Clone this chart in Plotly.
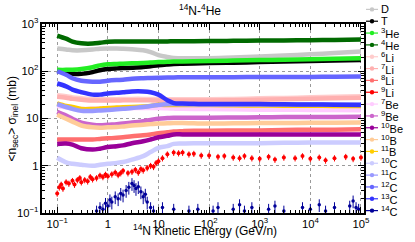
import plotly.graph_objects as go

# ---------------- data ----------------
E_GRID = [0.1, 0.15, 0.2, 0.3, 0.5, 0.7, 1, 1.5, 2, 3, 5, 7, 10, 15, 20, 30,
          50, 100, 300, 1000, 3000, 1e4, 3e4, 1e5]

D_VALS = [304, 290, 278, 277, 288, 300, 304, 304, 300, 292, 278, 255, 220, 200,
          190, 189, 189, 189, 195, 205, 215, 228, 242, 262]
T_VALS = [102, 94, 89, 88, 96, 105, 111, 115, 117, 119, 123, 128, 134, 139,
          142, 144, 146, 149, 152, 156, 160, 164, 168, 172]
HE3_VALS = [107, 107, 108, 112, 122, 133, 140, 143, 145, 147, 150, 153, 156, 158,
            160, 161, 162, 164, 168, 172, 176, 180, 184, 189]
HE4_VALS = [565, 490, 425, 390, 386, 400, 420, 425, 425, 425, 425, 425, 425, 428,
            430, 430, 432, 435, 440, 445, 450, 455, 460, 467]
LI6_VALS = [31, 29.5, 28, 26.8, 25.6, 25.6, 25.6, 25.6, 25.8, 26, 26, 25.8, 25.6,
            25.6, 25.6, 25.6, 25.6, 25.7, 26, 26.7, 27.3, 28, 28.7, 29.5]
LI7_VALS = [29, 27.5, 26, 25, 24, 24, 24, 24, 24.2, 24.4, 24.4, 24.2, 24,
            24, 24, 24, 24, 24.1, 24.4, 25, 25.6, 26.2, 26.9, 27.6]
LI8_VALS = [3.6, 3.6, 3.6, 3.6, 3.6, 3.7, 3.8, 3.9, 4.0, 4.2, 4.4, 4.6, 4.9, 5.1,
            5.3, 5.4, 5.5, 5.5, 5.6, 5.6, 5.7, 5.8, 5.8, 5.9]
BE7_VALS = [18.4, 17.2, 16.3, 15.9, 16.2, 16.5, 16.7, 16.7, 16.7, 16.7, 16.7, 16.7,
            16.7, 16.4, 16.2, 16, 15.9, 15.8, 15.6, 15.4, 15.3, 15.2, 15.1, 15]
BE9_VALS = [13.8, 11.5, 9.9, 8.2, 7.4, 7.2, 7.4, 7.6, 7.8, 8.2, 8.8, 9.3, 9.9,
            10.2, 10.4, 10.4, 10.4, 10.4, 10.5, 10.6, 10.7, 10.8, 10.8, 10.9]
BE10_VALS = [2.9, 2.95, 2.8, 2.35, 2.2, 2.3, 2.5, 2.6, 2.7, 3.0, 3.3, 3.6, 4.0,
             4.3, 4.6, 4.6, 4.6, 4.6, 4.6, 4.6, 4.6, 4.6, 4.6, 4.6]
B10_VALS = [12, 9.9, 8.6, 7.1, 6.5, 6.4, 6.5, 6.6, 6.8, 7.1, 7.4, 7.6, 7.8, 7.9,
            8.0, 8.0, 7.9, 7.8, 7.9, 8.0, 8.0, 8.1, 8.1, 8.2]
B11_VALS = [21, 18.5, 17.5, 15.9, 15.9, 16.2, 16.7, 17, 17.2, 17.5, 18, 18.5, 19.5,
            19.3, 19.3, 19.3, 19.3, 19.3, 19, 18.8, 18.7, 18.6, 18.5, 18.4]
C10_VALS = [1.48, 1.18, 1.1, 1.05, 1.0, 1.05, 1.1, 1.15, 1.2, 1.35, 1.6, 1.95, 2.4,
            2.6, 2.9, 2.95, 3.0, 3.0, 3.0, 3.0, 3.05, 3.1, 3.1, 3.1]
C11_VALS = [20.2, 17.5, 16, 14.5, 14.5, 14.8, 15.2, 15.6, 16, 16.7, 17.5, 18.4,
            19.3, 20, 20.2, 20, 19.8, 19.8, 19.8, 19.8, 19.8, 19.8, 19.8, 19.8]
C12_VALS = [100, 84, 71, 63, 60, 60, 63, 65, 66, 69, 71, 72, 73, 74, 74, 75, 75,
            75, 75, 75.5, 76, 76, 76.5, 77]
C13_VALS = [55, 48, 41, 36, 32, 32, 34, 35, 36, 37.5, 37.5, 36, 32, 24.4, 21.2,
            20.7, 20.5, 20.2, 20.2, 20.2, 20, 19.8, 19.6, 19.3]

LI9_E = [0.1, 0.11, 0.12, 0.13, 0.15, 0.17, 0.2, 0.22, 0.25, 0.28, 0.3, 0.35, 0.4,
         0.45, 0.5, 0.6, 0.7, 0.8, 0.9, 1.0, 1.2, 1.4, 1.6, 1.8, 2.0, 2.5, 3.0,
         3.5, 4, 4.5, 5, 6, 7, 8, 9, 10, 12, 15, 20, 25, 30, 40, 50, 70, 100,
         150, 200, 300, 400, 500, 700, 1000, 1500, 2000, 3000, 5000, 7000, 1e4,
         1.5e4, 2e4, 3e4, 5e4, 7e4, 1e5]
LI9_VALS = [0.26, 0.35, 0.40, 0.33, 0.45, 0.42, 0.48, 0.40, 0.50, 0.55, 0.45, 0.50,
            0.47, 0.58, 0.52, 0.55, 0.62, 0.58, 0.65, 0.60, 0.66, 0.72, 0.64, 0.70,
            0.78, 0.70, 0.75, 0.82, 0.72, 0.85, 0.80, 0.90, 1.0, 0.95, 1.15, 1.25,
            1.45, 1.75, 1.9, 1.85, 1.9, 1.75, 1.8, 1.65, 1.65, 1.55, 1.6, 1.5, 1.45,
            1.6, 1.45, 1.4, 1.55, 1.35, 1.5, 1.45, 1.6, 1.4, 1.5, 1.3, 1.45, 1.55,
            1.4, 1.5]

C14_E = [0.6, 0.7, 0.8, 0.9, 1.0, 1.1, 1.2, 1.4, 1.6, 1.8, 2.0, 2.3, 2.6, 3.0,
         3.3, 3.6, 4.0, 4.5, 5, 5.5, 6, 7, 8, 12, 20, 40, 60, 120, 150, 300, 400,
         500, 700, 1500, 2000, 3000, 7000, 1e4, 1.5e4, 2e4, 3e4, 6e4, 7e4, 8e4, 9e4]
C14_VALS = [0.11, 0.13, 0.12, 0.16, 0.14, 0.19, 0.17, 0.22, 0.2, 0.26, 0.24, 0.3,
            0.35, 0.42, 0.38, 0.33, 0.36, 0.28, 0.22, 0.25, 0.17, 0.13, 0.11, 0.13,
            0.12, 0.11, 0.12, 0.11, 0.13, 0.12, 0.15, 0.11, 0.13, 0.12, 0.14, 0.11,
            0.13, 0.12, 0.15, 0.11, 0.13, 0.14, 0.18, 0.13, 0.12]

NAMES = ["D", "T", "<sup>3</sup>He", "<sup>4</sup>He", "<sup>6</sup>Li",
         "<sup>7</sup>Li", "<sup>8</sup>Li", "<sup>9</sup>Li", "<sup>7</sup>Be",
         "<sup>9</sup>Be", "<sup>10</sup>Be", "<sup>10</sup>B", "<sup>11</sup>B",
         "<sup>10</sup>C", "<sup>11</sup>C", "<sup>12</sup>C", "<sup>13</sup>C",
         "<sup>14</sup>C"]
COLORS = ["#c8c8c8", "#000000", "#22ee22", "#006a00", "#ffcccc", "#ffb0b0",
          "#ff6f6f", "#ff0000", "#ffccff", "#cc66cc", "#990099", "#ffcc99",
          "#ffcc00", "#ccccff", "#9999ff", "#6666ff", "#3333ff", "#000099"]

SMOOTH = {0: D_VALS, 1: T_VALS, 2: HE3_VALS, 3: HE4_VALS, 4: LI6_VALS, 5: LI7_VALS,
          6: LI8_VALS, 8: BE7_VALS, 9: BE9_VALS, 10: BE10_VALS, 11: B10_VALS,
          12: B11_VALS, 13: C10_VALS, 14: C11_VALS, 15: C12_VALS, 16: C13_VALS}

fig = go.Figure()
for i, name in enumerate(NAMES):
    col = COLORS[i]
    if i in SMOOTH:
        fig.add_trace(go.Scatter(x=E_GRID, y=SMOOTH[i], mode="lines", name=name,
                                 line=dict(color=col, width=4.5, shape="spline"),
                                 showlegend=False))
    elif i == 7:
        fig.add_trace(go.Scatter(x=LI9_E, y=LI9_VALS, mode="markers", name=name,
                                 marker=dict(color=col, size=4),
                                 error_y=dict(type="percent", value=15, color=col,
                                              thickness=1, width=0),
                                 showlegend=False))
    else:
        fig.add_trace(go.Scatter(x=C14_E, y=C14_VALS, mode="markers", name=name,
                                 marker=dict(color=col, size=3.5),
                                 error_y=dict(type="percent", value=30, color=col,
                                              thickness=1, width=0),
                                 showlegend=False))

# ---------------- manual legend ----------------
L, R, T, B = 42, 364, 24, 218
W, H = R - L, B - T
shapes = []
annotations = []
for i, name in enumerate(NAMES):
    py = 9 + i * 12.15
    yp = (B - py) / H
    x0 = (366 - L) / W
    x1 = (378 - L) / W
    xm = (372 - L) / W
    shapes.append(dict(type="line", xref="paper", yref="paper", x0=x0, x1=x1,
                       y0=yp, y1=yp, line=dict(color=COLORS[i], width=1.2)))
    shapes.append(dict(type="circle", xref="paper", yref="paper",
                       xsizemode="pixel", ysizemode="pixel", xanchor=xm, yanchor=yp,
                       x0=-2.2, x1=2.2, y0=-2.2, y1=2.2, fillcolor=COLORS[i],
                       line=dict(color=COLORS[i], width=0)))
    annotations.append(dict(text=name, xref="paper", yref="paper",
                            x=(380 - L) / W, y=yp, xanchor="left", yanchor="middle",
                            showarrow=False, borderpad=0,
                            font=dict(size=11, color="black", family="Liberation Sans")))

# axis titles as annotations for exact placement
annotations.append(dict(text="<sup>14</sup>N Kinetic Energy (GeV/n)", xref="paper",
                        yref="paper", x=(205 - L) / W, y=(B - 235) / H,
                        xanchor="center", yanchor="middle", showarrow=False,
                        borderpad=0,
                        font=dict(size=12, family="Liberation Sans", color="black")))
annotations.append(dict(text="&lt;n<sub>sec</sub>&gt; σ<sub>inel</sub> (mb)",
                        xref="paper", yref="paper", x=(12 - L) / W, y=0.5,
                        textangle=-90, xanchor="center", yanchor="middle",
                        showarrow=False,
                        font=dict(size=12, family="Liberation Sans", color="black")))

axis_common = dict(type="log", showline=True, linecolor="black", linewidth=1.5,
                   mirror="allticks", ticks="inside", ticklen=6, tickcolor="black",
                   dtick=1, exponentformat="power", showgrid=True,
                   gridcolor="#9a9a9a", griddash="dot", gridwidth=1,
                   tickfont=dict(size=9, family="Liberation Sans", color="black"),
                   minor=dict(ticks="inside", ticklen=3, tickcolor="black",
                              dtick="D1", showgrid=False),
                   zeroline=False)

fig.update_layout(
    width=415, height=242,
    margin=dict(l=L, r=415 - R, t=T, b=242 - B),
    paper_bgcolor="white", plot_bgcolor="white",
    font=dict(family="Liberation Sans", color="black"),
    title=dict(text="<sup>14</sup>N-<sup>4</sup>He", x=0.482, xanchor="center",
               y=1 - 11 / 242, yanchor="middle",
               font=dict(size=12, family="Liberation Sans")),
    xaxis=dict(axis_common, range=[-1.30, 5.06]),
    yaxis=dict(axis_common, range=[-1, 3]),
    shapes=shapes, annotations=annotations,
)

fig.write_html("out.html",
               config={"displayModeBar": False},
               post_script="document.body.style.margin='0px';"
                           "document.body.style.padding='0px';")
